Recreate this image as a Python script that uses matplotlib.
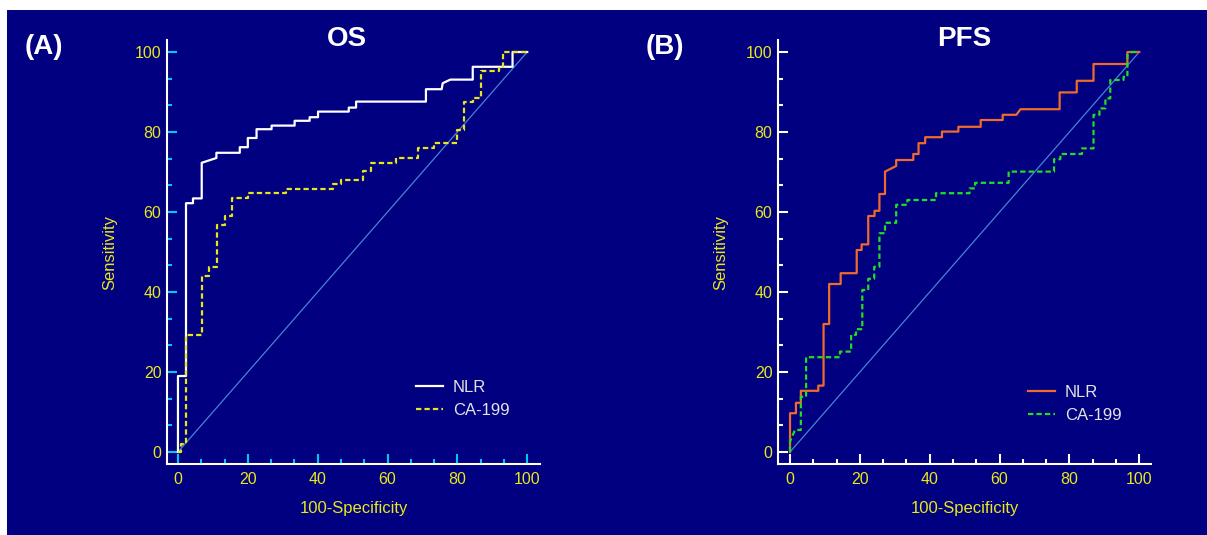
"""
ROC curves, OS and PFS
"""

import numpy as np
import matplotlib
matplotlib.use('Agg')
import matplotlib.pyplot as plt
from matplotlib.patches import Rectangle
from matplotlib.ticker import MultipleLocator

plt.rcParams['font.family'] = ['Liberation Sans', 'DejaVu Sans']

# OS panel: NLR (solid white) and CA-199 (dashed yellow)
os_nlr_fpr = [0, 0, 2.3, 2.3, 4.3, 4.3, 6.8, 6.8, 11, 11, 17.7, 17.7, 20, 20, 22.5, 22.5,
              26.8, 26.8, 33.4, 33.4, 37.7, 37.7, 40.1, 40.1, 48.9, 48.9, 51, 51, 71, 71,
              75.5, 75.8, 78, 84.4, 84.4, 95.8, 95.8, 100]
os_nlr_sens = [0, 19, 19, 62.2, 62.2, 63.4, 63.4, 72.3, 73.5, 74.8, 74.8, 76.2, 76.2, 78.5,
               78.5, 80.7, 80.7, 81.6, 81.6, 82.8, 82.8, 83.7, 83.7, 85.1, 85.1, 86.1, 86.1,
               87.6, 87.6, 90.7, 90.7, 92.2, 93.1, 93.1, 96.3, 96.3, 100, 100]

os_ca_fpr = [0, 0.9, 0.9, 2.3, 2.3, 6.8, 6.8, 8.9, 8.9, 11.2, 11.2, 13.4, 13.4, 15.6, 15.6,
             20.1, 20.1, 31, 31, 44.4, 44.4, 46.8, 46.8, 53.1, 53.1, 55.3, 55.3, 62.3, 62.3,
             68.7, 68.7, 73.4, 73.4, 79.8, 79.8, 82, 82, 84.4, 84.4, 86.8, 86.8, 91.8, 91.8,
             93.2, 93.2, 100]
os_ca_sens = [0, 0, 2, 2, 29.2, 29.2, 44, 44, 46.3, 46.3, 56.8, 56.8, 59, 59, 63.4, 63.4,
              64.7, 64.7, 65.7, 65.7, 67, 67, 68, 68, 70.3, 70.3, 72.3, 72.3, 73.4, 73.4,
              75.9, 75.9, 77.2, 77.2, 80.5, 80.5, 87.6, 87.6, 88.4, 88.4, 95.3, 95.3, 96,
              96, 100, 100]

# PFS panel: NLR (solid orange) and CA-199 (dashed green)
pfs_nlr_fpr = [0, 0, 1.7, 1.7, 3.1, 3.1, 8.1, 8.1, 9.6, 9.6, 11.2, 11.2, 14.5, 14.5, 19.1,
               19.1, 20.5, 20.5, 22.4, 22.4, 24.2, 24.2, 25.6, 25.6, 27.2, 27.2, 30.4, 30.4,
               35.3, 35.3, 36.8, 36.8, 38.7, 38.7, 43.5, 43.5, 48.2, 48.2, 54.6, 54.6, 60.9,
               60.9, 64.8, 66, 77.2, 77.2, 82.1, 82.1, 86.9, 86.9, 96.6, 96.6, 100]
pfs_nlr_sens = [0, 9.7, 9.7, 12.3, 12.3, 15.3, 15.3, 16.6, 16.6, 32, 32, 42, 42, 44.7, 44.7,
                50.5, 50.5, 51.9, 51.9, 59, 59, 60.3, 60.3, 64.5, 64.5, 70.1, 71.5, 73, 73,
                74.5, 74.5, 77.2, 77.2, 78.7, 78.7, 80.1, 80.1, 81.3, 81.3, 83, 83, 84.3,
                84.3, 85.7, 85.7, 89.9, 89.9, 92.8, 92.8, 97, 97, 100, 100]

pfs_ca_fpr = [0, 0, 1.4, 3.1, 3.1, 4.6, 4.6, 14.3, 14.3, 17.5, 17.5, 18.9, 18.9, 20.7, 20.7,
              22.4, 22.4, 24.1, 24.1, 25.6, 25.6, 27.2, 27.2, 30.4, 30.4, 33.6, 33.6, 41.8,
              41.8, 51.4, 51.4, 53, 53, 62.6, 62.6, 75.6, 75.6, 77.4, 77.4, 83.6, 83.6, 86.9,
              86.9, 88.6, 88.6, 90.3, 90.3, 91.7, 91.7, 95.5, 95.5, 96.6, 96.6, 97.8, 100]
pfs_ca_sens = [0, 2.6, 5.5, 5.5, 13.8, 13.8, 23.7, 23.7, 25.1, 25.1, 29.3, 29.3, 30.7, 30.7,
               40.5, 40.5, 43.3, 43.3, 46.3, 46.3, 54.7, 54.7, 57.3, 57.3, 61.8, 61.8, 63, 63,
               64.7, 64.7, 65.9, 65.9, 67.3, 67.3, 70.1, 70.1, 73.2, 73.2, 74.5, 74.5, 75.9,
               75.9, 84.3, 84.3, 85.9, 85.9, 88.4, 88.4, 93, 93, 93.8, 93.8, 99.3, 100, 100]

navy = '#000080'
yellow = '#e8e81c'
W, H = 1207, 535

fig = plt.figure(figsize=(W / 100, H / 100), dpi=100, facecolor='white')
fig.patches.append(Rectangle((7 / W, 0), 1, 1 - 10 / H, transform=fig.transFigure,
                             facecolor=navy, edgecolor='none', zorder=-5))


def roc_panel(left_px, x0, tick_col, fpr1, sens1, col1, fpr2, sens2, col2, leg_y):
    ax = fig.add_axes([left_px / W, (H - 464) / H, 373 / W, 424 / H])
    ax.set_facecolor('none')
    ax.plot([0, 100], [0, 100], color='#4684d4', lw=0.9)
    ax.plot(fpr1, sens1, color=col1, lw=1.6, label='NLR')
    ax.plot(fpr2, sens2, color=col2, lw=1.6, linestyle=(0, (2.4, 1.4)), label='CA-199')
    ax.set_xlim(x0, x0 + 106.8)
    ax.set_ylim(-3, 103)
    for s in ['top', 'right']:
        ax.spines[s].set_visible(False)
    for s in ['left', 'bottom']:
        ax.spines[s].set_color('white')
        ax.spines[s].set_linewidth(1.5)
    ax.xaxis.set_major_locator(MultipleLocator(20))
    ax.yaxis.set_major_locator(MultipleLocator(20))
    ax.xaxis.set_minor_locator(MultipleLocator(20 / 3))
    ax.yaxis.set_minor_locator(MultipleLocator(20 / 3))
    ax.tick_params(which='both', direction='in', color=tick_col, width=1.5)
    ax.tick_params(which='major', length=7.5, labelsize=11.5, labelcolor=yellow)
    ax.tick_params(which='minor', length=3.8)
    ax.tick_params(axis='x', which='major', pad=6)
    ax.tick_params(axis='y', which='major', pad=4)
    ax.set_xlabel('100-Specificity', fontsize=12, color=yellow)
    ax.set_ylabel('Sensitivity', fontsize=12, color=yellow)
    ax.xaxis.set_label_coords(0.5, -0.087)
    ax.yaxis.set_label_coords(-0.133, 0.5)
    leg = ax.legend(loc='upper left', bbox_to_anchor=(68.2, leg_y),
                    bbox_transform=ax.transData, frameon=False, fontsize=12,
                    borderpad=0, borderaxespad=0, handlelength=1.6,
                    handletextpad=0.6, labelspacing=0.49)
    for t in leg.get_texts():
        t.set_color('#e4e4e4')
    return ax


roc_panel(167, -3.14, '#00c8f0', os_nlr_fpr, os_nlr_sens, 'white',
          os_ca_fpr, os_ca_sens, '#e6e61a', 18.0)
roc_panel(778, -3.44, 'white', pfs_nlr_fpr, pfs_nlr_sens, '#f06a2a',
          pfs_ca_fpr, pfs_ca_sens, '#22dd22', 16.8)

fig.text(44 / W, 1 - 54 / H, '(A)', fontsize=20, fontweight='bold', color='white',
         ha='center', va='baseline')
fig.text(665 / W, 1 - 54 / H, '(B)', fontsize=20, fontweight='bold', color='white',
         ha='center', va='baseline')
fig.text(347 / W, 1 - 45.5 / H, 'OS', fontsize=20, fontweight='bold', color='white',
         ha='center', va='baseline')
fig.text(964 / W, 1 - 45.5 / H, 'PFS', fontsize=20, fontweight='bold', color='white',
         ha='center', va='baseline')

fig.savefig('out.png', dpi=100, facecolor=fig.get_facecolor())
